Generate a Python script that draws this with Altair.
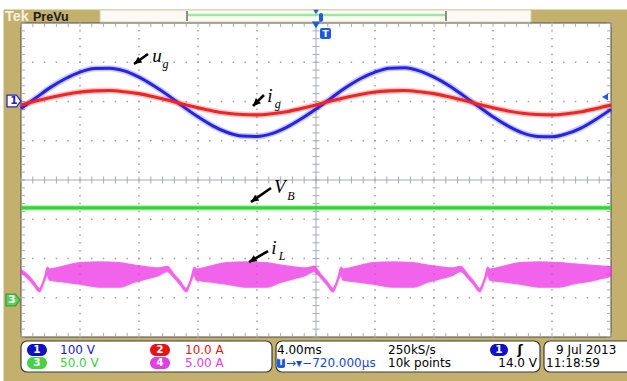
import altair as alt
import numpy as np
import pandas as pd

W, H = 627, 381
PX0, PX1, PY0, PY1 = 21, 611, 23, 337
px_ms = (PX1 - PX0) / 40.0
px_div = (PY1 - PY0) / 8.0
CY = (PY0 + PY1) / 2
xs = alt.Scale(domain=[-PX0 / px_ms, (W - PX0) / px_ms], nice=False, zero=False)
ys = alt.Scale(domain=[(CY - H) / px_div, CY / px_div], nice=False, zero=False)

# ---------------- data (time in ms, value in divisions) ----------------
t_ms = list(range(0, 41))
ug_div = [1.82, 2.09, 2.36, 2.58, 2.75, 2.84, 2.85, 2.78, 2.62, 2.40, 2.15, 1.87, 1.61, 1.38, 1.21,
          1.12, 1.11, 1.18, 1.34, 1.56, 1.81, 2.08, 2.35, 2.58, 2.75, 2.85, 2.86, 2.78, 2.62, 2.41,
          2.15, 1.88, 1.61, 1.38, 1.20, 1.11, 1.10, 1.18, 1.33, 1.55, 1.80]
ig_div = [1.91, 2.01, 2.10, 2.18, 2.24, 2.27, 2.28, 2.25, 2.20, 2.12, 2.03, 1.93, 1.84, 1.76, 1.70,
          1.67, 1.66, 1.69, 1.74, 1.82, 1.91, 2.01, 2.10, 2.18, 2.24, 2.27, 2.28, 2.25, 2.20, 2.12,
          2.03, 1.93, 1.84, 1.76, 1.70, 1.67, 1.66, 1.69, 1.74, 1.82, 1.91]
vb_t = [0, 10, 20, 30, 40]
vb_div = [-0.71, -0.71, -0.71, -0.71, -0.71]
il_t = [0.00, 0.44, 0.84, 1.25, 1.59, 1.79, 1.93, 2.94, 3.96, 5.32, 6.67, 7.69, 8.71, 9.39,
        9.91, 10.39, 10.79, 11.20, 11.54, 11.74, 11.88, 12.89, 13.91, 15.27, 16.62, 17.64, 18.66, 19.34,
        19.86, 20.34, 20.74, 21.15, 21.49, 21.69, 21.83, 22.84, 23.86, 25.22, 26.57, 27.59, 28.61, 29.29,
        29.81, 30.29, 30.69, 31.10, 31.44, 31.64, 31.78, 32.79, 33.81, 35.17, 36.52, 37.54, 38.56, 39.24,
        39.76, 40.00]
il_hi = [-2.28, -2.41, -2.58, -2.76, -2.48, -2.22, -2.27, -2.19, -2.11, -2.09, -2.11, -2.17, -2.22, -2.24,
         -2.20, -2.41, -2.58, -2.76, -2.48, -2.22, -2.27, -2.19, -2.11, -2.09, -2.11, -2.17, -2.22, -2.24,
         -2.20, -2.41, -2.58, -2.76, -2.48, -2.22, -2.27, -2.19, -2.11, -2.09, -2.11, -2.17, -2.22, -2.24,
         -2.20, -2.41, -2.58, -2.76, -2.48, -2.22, -2.27, -2.19, -2.11, -2.09, -2.11, -2.14, -2.17, -2.19,
         -2.20, -2.21]
il_lo = [-2.37, -2.50, -2.67, -2.85, -2.57, -2.42, -2.55, -2.60, -2.65, -2.73, -2.73, -2.60, -2.50, -2.42,
         -2.33, -2.50, -2.67, -2.85, -2.57, -2.42, -2.55, -2.60, -2.65, -2.73, -2.73, -2.60, -2.50, -2.42,
         -2.33, -2.50, -2.67, -2.85, -2.57, -2.42, -2.55, -2.60, -2.65, -2.73, -2.73, -2.60, -2.50, -2.42,
         -2.33, -2.50, -2.67, -2.85, -2.57, -2.42, -2.55, -2.60, -2.65, -2.73, -2.73, -2.64, -2.58, -2.52,
         -2.48, -2.45]

# annotations: arrow tail / tip (ms, div), arrowhead angle, label pieces
ann_tail_t = [8.61, 16.47, 16.95, 16.75]
ann_tail_v = [3.21, 2.166, -0.204, -1.81]
ann_tip_t = [7.66, 15.73, 15.59, 15.46]
ann_tip_v = [2.955, 1.885, -0.56, -2.09]
ann_angle = [234.5, 225, 235, 240]
lab_main = ["u", "i", "V", "i"]
lab_main_t = [9.22, 16.88, 17.55, 17.15]
lab_main_v = [3.16, 2.14, -0.17, -1.73]
lab_sub = ["g", "g", "B", "L"]
lab_sub_t = [9.80, 17.40, 18.30, 17.70]
lab_sub_v = [2.955, 1.936, -0.42, -1.94]

BLUE, RED, GREEN, PINK = "#2424E8", "#F02424", "#2ED82E", "#EE2EE6"
TAN = "#C3B06C"
GRAT = "#A4A9BE"


def X(f):
    return alt.X(f, type="quantitative", scale=xs, axis=None)


def Y(f):
    return alt.Y(f, type="quantitative", scale=ys, axis=None)


def PXX(f):
    return alt.X(f, type="quantitative", scale=None)


def PXY(f):
    return alt.Y(f, type="quantitative", scale=None)


layers = []

# ---------------- frame ----------------
frame = pd.DataFrame({
    "x": [4, PX0, 100], "x2": [W + 2, PX1, 531],
    "y": [10, PY0, 10], "y2": [H + 2, PY1, 22],
    "fill": [TAN, "#FFFFFF", "#FCFAF6"], "stroke": [TAN, "#4A4A4A", "#D8D0B0"],
})
layers.append(alt.Chart(frame).mark_rect(strokeWidth=1).encode(
    x=PXX("x"), x2=alt.X2("x2"), y=PXY("y"), y2=alt.Y2("y2"),
    fill=alt.Fill("fill:N", scale=None), stroke=alt.Stroke("stroke:N", scale=None)))

# status boxes
boxes = pd.DataFrame({"x": [PX0, 276, 544], "x2": [272, 540, 650], "y": [341] * 3, "y2": [372] * 3})
layers.append(alt.Chart(boxes).mark_rect(fill="white", stroke="#3C3C3C", strokeWidth=1.2, cornerRadius=6).encode(
    x=PXX("x"), x2=alt.X2("x2"), y=PXY("y"), y2=alt.Y2("y2")))

# ---------------- graticule ----------------
dots = []
for k in range(1, 10):
    if k == 5:
        continue
    for j in range(0, 41):
        dots.append((4 * k, -4 + 0.2 * j))
for j in range(-3, 4):
    if j == 0:
        continue
    for k in range(0, 51):
        dots.append((0.8 * k, j))
dots_df = pd.DataFrame(dots, columns=["t", "v"])
layers.append(alt.Chart(dots_df).mark_square(size=2.2, color="#A0A0A0", opacity=1).encode(x=X("t"), y=Y("v")))

ticks = []
tv = 3.5 / px_div
tt = 3.5 / px_ms
for j in range(0, 41):
    v = -4 + 0.2 * j
    ticks.append((20 - tt, v, 20 + tt, v))
    ticks.append((0, v, 0.27, v))
    ticks.append((40 - 0.27, v, 40, v))
for k in range(0, 51):
    t = 0.8 * k
    ticks.append((t, -tv, t, tv))
    ticks.append((t, 4, t, 4 - 0.1))
    ticks.append((t, -4, t, -4 + 0.1))
ticks.append((20, -4, 20, 4))
ticks.append((0, 0, 40, 0))
ticks_df = pd.DataFrame(ticks, columns=["t", "v", "t2", "v2"])
layers.append(alt.Chart(ticks_df).mark_rule(color=GRAT, strokeWidth=1).encode(
    x=X("t"), y=Y("v"), x2=alt.X2("t2"), y2=alt.Y2("v2")))

# ---------------- traces ----------------
sin_df = pd.DataFrame({"t": t_ms, "ug": ug_div, "ig": ig_div})
for col, colr, w in [("ug", BLUE, 3.0), ("ig", RED, 3.1)]:
    layers.append(alt.Chart(sin_df).mark_line(color=colr, strokeWidth=w + 3.0, opacity=0.25,
                                              interpolate="monotone").encode(x=X("t"), y=Y(col)))
    layers.append(alt.Chart(sin_df).mark_line(color=colr, strokeWidth=w, interpolate="monotone").encode(
        x=X("t"), y=Y(col)))

vb_df = pd.DataFrame({"t": vb_t, "v": vb_div})
layers.append(alt.Chart(vb_df).mark_line(color=GREEN, strokeWidth=5.5, opacity=0.3).encode(x=X("t"), y=Y("v")))
layers.append(alt.Chart(vb_df).mark_line(color=GREEN, strokeWidth=3.2).encode(x=X("t"), y=Y("v")))

il_df = pd.DataFrame({"t": il_t, "hi": il_hi, "lo": il_lo})
layers.append(alt.Chart(il_df).mark_area(color=PINK, opacity=0.74, stroke=PINK, strokeWidth=1.4,
                                         strokeOpacity=0.95, interpolate="monotone").encode(
    x=X("t"), y=Y("hi"), y2=alt.Y2("lo")))

# ---------------- annotations ----------------
arr_df = pd.DataFrame({"t": ann_tail_t, "v": ann_tail_v, "t2": ann_tip_t, "v2": ann_tip_v, "ang": ann_angle})
layers.append(alt.Chart(arr_df).mark_rule(color="black", strokeWidth=2.6).encode(
    x=X("t"), y=Y("v"), x2=alt.X2("t2"), y2=alt.Y2("v2")))
layers.append(alt.Chart(arr_df).mark_point(shape="M0,0L0.8,1.7L-0.8,1.7Z", filled=True, color="black",
                                           size=80, opacity=1).encode(
    x=X("t2"), y=Y("v2"), angle=alt.Angle("ang:Q", scale=None)))
lab_df = pd.DataFrame({"t": lab_main_t, "v": lab_main_v, "s": lab_main})
layers.append(alt.Chart(lab_df).mark_text(font="Liberation Serif", fontStyle="italic", fontSize=19,
                                          color="black", align="center", baseline="middle").encode(
    x=X("t"), y=Y("v"), text="s:N"))
sub_df = pd.DataFrame({"t": lab_sub_t, "v": lab_sub_v, "s": lab_sub})
layers.append(alt.Chart(sub_df).mark_text(font="Liberation Serif", fontStyle="italic", fontSize=12,
                                          color="black", align="center", baseline="middle").encode(
    x=X("t"), y=Y("v"), text="s:N"))

# ---------------- header / markers ----------------
layers.append(alt.Chart(pd.DataFrame({"x": [188], "x2": [445], "y": [15]})).mark_rule(
    color="#9BEA9B", strokeWidth=2.6).encode(x=PXX("x"), x2=alt.X2("x2"), y=PXY("y")))
layers.append(alt.Chart(pd.DataFrame({"x": [187, 446], "y": [11, 11], "y2": [21, 21]})).mark_rule(
    color="#444444", strokeWidth=1.2).encode(x=PXX("x"), y=PXY("y"), y2=alt.Y2("y2")))

tri = pd.DataFrame({"x": [316, 316, 605], "y": [12, 25, 97], "ang": [180, 180, 270], "sz": [30, 70, 50]})
layers.append(alt.Chart(tri).mark_point(shape="triangle-up", filled=True, color="#1E5BE0", opacity=1).encode(
    x=PXX("x"), y=PXY("y"), angle=alt.Angle("ang:Q", scale=None), size=alt.Size("sz:Q", scale=None)))

badges = pd.DataFrame({"x": [319, 320, 277], "x2": [323, 331, 285], "y": [13, 28, 358], "y2": [22, 39, 368]})
layers.append(alt.Chart(badges).mark_rect(fill="#1E5BE0", cornerRadius=2).encode(
    x=PXX("x"), x2=alt.X2("x2"), y=PXY("y"), y2=alt.Y2("y2")))

marks = pd.DataFrame({"x": [14, 13], "y": [101, 300], "fill": ["white", "#5BD05B"], "stroke": ["#2424C8", "#3FA03F"]})
layers.append(alt.Chart(marks).mark_point(shape="M-1,-0.85L0.35,-0.85L1,0L0.35,0.85L-1,0.85Z", size=196,
                                          filled=True, strokeWidth=1.3, opacity=1).encode(
    x=PXX("x"), y=PXY("y"), fill=alt.Fill("fill:N", scale=None), stroke=alt.Stroke("stroke:N", scale=None)))

pills = pd.DataFrame({"x": [27, 27, 150, 150, 490], "x2": [47, 47, 170, 170, 508],
                      "y": [344, 357, 344, 357, 344], "y2": [356, 369, 356, 369, 356],
                      "c": ["#1010C8", "#48D048", "#E81414", "#E040E0", "#1010C8"]})
layers.append(alt.Chart(pills).mark_rect(cornerRadius=6).encode(
    x=PXX("x"), x2=alt.X2("x2"), y=PXY("y"), y2=alt.Y2("y2"), fill=alt.Fill("c:N", scale=None)))

# ---------------- texts ----------------
txt = pd.DataFrame([
    (37, 350, "1", "white", 10.5, "bold", "center", "DejaVu Sans"),
    (37, 363, "3", "white", 10.5, "bold", "center", "DejaVu Sans"),
    (160, 350, "2", "white", 10.5, "bold", "center", "DejaVu Sans"),
    (160, 363, "4", "white", 10.5, "bold", "center", "DejaVu Sans"),
    (499, 350, "1", "white", 10.5, "bold", "center", "DejaVu Sans"),
    (60, 349.5, "100 V", "#1A1ACC", 12, "normal", "left", "DejaVu Sans"),
    (60, 363, "50.0 V", "#40CC40", 12, "normal", "left", "DejaVu Sans"),
    (185, 349.5, "10.0 A", "#E01818", 12, "normal", "left", "DejaVu Sans"),
    (185, 363, "5.00 A", "#E040E0", 12, "normal", "left", "DejaVu Sans"),
    (277, 349.5, "4.00ms", "black", 12, "normal", "left", "DejaVu Sans"),
    (388, 349.5, "250kS/s", "black", 12, "normal", "left", "DejaVu Sans"),
    (388, 363, "10k points", "black", 12, "normal", "left", "DejaVu Sans"),
    (537, 363, "14.0 V", "black", 12, "normal", "right", "DejaVu Sans"),
    (520, 349.5, "ʃ", "black", 12.5, "bold", "center", "DejaVu Sans"),
    (286, 363, "→▾−720.000µs", "#1A4ACC", 12, "normal", "left", "DejaVu Sans"),
    (556, 349.5, "9 Jul  2013", "black", 12, "normal", "left", "DejaVu Sans"),
    (546, 363, "11:18:59", "black", 12, "normal", "left", "DejaVu Sans"),
    (281, 363, "T", "white", 8, "bold", "center", "DejaVu Sans"),
    (325.5, 33.5, "T", "white", 9, "bold", "center", "DejaVu Sans"),
    (14, 101, "1", "#2424C8", 10.5, "bold", "center", "DejaVu Sans"),
    (12, 300, "3", "white", 10.5, "bold", "center", "DejaVu Sans"),
    (5, 16.5, "Tek", "#F6F1DE", 14.5, "bold", "left", "Liberation Sans"),
    (33, 16.5, "PreVu", "#1A1A1A", 12.5, "bold", "left", "Liberation Sans"),
], columns=["x", "y", "s", "c", "fs", "fw", "al", "font"])
for (fs, fw, al, font), g in txt.groupby(["fs", "fw", "al", "font"]):
    layers.append(alt.Chart(g).mark_text(fontSize=fs, fontWeight=fw, align=al, font=font,
                                         baseline="middle").encode(
        x=PXX("x"), y=PXY("y"), text="s:N", color=alt.Color("c:N", scale=None)))

chart = alt.layer(*layers).properties(width=W, height=H, padding=0, autosize="none",
                                      background="white").configure_view(stroke=None)
chart.save("out.html", embed_options={"renderer": "svg", "actions": False})
